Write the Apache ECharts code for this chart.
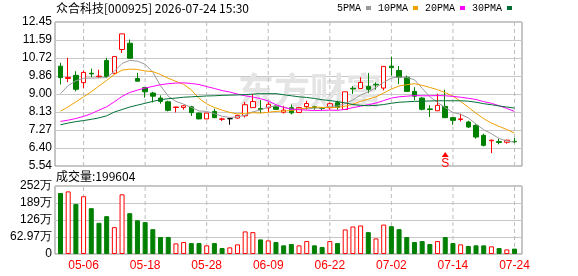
<!DOCTYPE html>
<html>
<head>
<meta charset="utf-8">
<title>众合科技 日K</title>
<script src="https://cdn.jsdelivr.net/npm/echarts@6.0.0/dist/echarts.min.js"></script>
<style>
  html, body { margin: 0; padding: 0; background: #fff; }
  #kline { width: 578px; height: 276px; }
</style>
</head>
<body>
<div id="kline"></div>
<script>
// 交易日
const dates = ['04-28', '04-29', '04-30', '05-06', '05-07', '05-08', '05-11', '05-12', '05-13', '05-14',
  '05-15', '05-18', '05-19', '05-20', '05-21', '05-22', '05-25', '05-26', '05-27', '05-28',
  '05-29', '06-01', '06-02', '06-03', '06-04', '06-05', '06-08', '06-09', '06-10', '06-11',
  '06-12', '06-15', '06-16', '06-17', '06-18', '06-22', '06-23', '06-24', '06-25', '06-26',
  '06-29', '06-30', '07-01', '07-02', '07-03', '07-06', '07-07', '07-08', '07-09', '07-10',
  '07-13', '07-14', '07-15', '07-16', '07-17', '07-20', '07-21', '07-22', '07-23', '07-24'];
const xTickDates = ['05-06', '05-18', '05-28', '06-09', '06-22', '07-02', '07-14', '07-24'];

// 开 收 低 高
const opens = [10.33, 9.74, 9.89, 9.54, 9.99, 9.83, 10.60, 9.99, 11.13, 11.43,
  9.74, 9.30, 9.04, 8.80, 8.62, 8.35, 8.35, 8.38, 8.08, 7.80,
  8.16, 7.78, 7.81, 7.84, 7.95, 8.34, 8.30, 8.33, 8.41, 8.12,
  8.34, 8.11, 8.39, 8.38, 8.33, 8.34, 8.58, 8.25, 9.27, 9.26,
  9.36, 9.46, 9.28, 10.33, 10.12, 9.80, 9.12, 8.80, 8.28, 8.19,
  8.40, 7.86, 7.77, 7.65, 7.49, 7.01, 6.75, 6.71, 6.68, 6.72];
const closes = [9.78, 9.79, 9.22, 10.03, 9.96, 9.85, 9.84, 10.79, 11.88, 10.71,
  9.61, 9.10, 8.89, 8.64, 8.21, 8.37, 8.43, 8.10, 7.80, 8.08,
  7.86, 7.80, 7.81, 7.97, 8.48, 8.63, 8.25, 8.50, 8.26, 8.22,
  8.09, 8.34, 8.54, 8.35, 8.31, 8.53, 8.35, 9.10, 9.24, 9.55,
  9.22, 9.43, 10.32, 10.26, 9.80, 9.12, 8.89, 8.26, 8.25, 8.45,
  7.86, 7.73, 7.80, 7.41, 6.93, 6.53, 6.78, 6.67, 6.78, 6.70];
const lows = [9.45, 9.56, 9.12, 9.28, 9.80, 9.76, 9.76, 9.92, 10.97, 10.69,
  9.60, 8.82, 8.59, 8.53, 8.16, 8.11, 8.24, 7.94, 7.78, 7.79,
  7.84, 7.70, 7.52, 7.82, 7.87, 8.33, 8.08, 8.13, 8.24, 8.06,
  8.02, 8.08, 8.25, 8.24, 8.21, 8.25, 8.24, 8.23, 9.00, 9.25,
  9.03, 9.20, 9.17, 9.87, 9.47, 9.09, 8.69, 8.21, 7.89, 8.18,
  7.85, 7.52, 7.68, 7.36, 6.85, 6.48, 6.16, 6.58, 6.61, 6.64];
const highs = [10.49, 10.73, 10.09, 10.12, 10.21, 10.16, 10.73, 10.80, 11.90, 11.61,
  10.01, 9.33, 9.10, 8.93, 8.67, 8.38, 8.46, 8.43, 8.10, 8.08,
  8.29, 7.86, 7.81, 8.00, 8.62, 8.98, 8.70, 8.60, 8.45, 8.43,
  8.49, 8.36, 8.67, 8.43, 8.37, 8.59, 8.67, 9.10, 9.37, 9.80,
  10.00, 9.55, 10.34, 10.79, 10.33, 9.88, 9.32, 8.85, 8.45, 9.01,
  9.20, 7.89, 8.05, 7.71, 7.54, 7.09, 6.80, 6.85, 6.80, 6.88];

// 均线
const ma5 = [9.01, 9.40, 9.63, 9.75, 9.76, 9.77, 9.78, 10.09, 10.46, 10.61,
  10.57, 10.42, 10.04, 9.39, 8.89, 8.64, 8.51, 8.35, 8.18, 8.16,
  8.05, 7.93, 7.87, 7.90, 7.98, 8.14, 8.23, 8.37, 8.42, 8.37,
  8.26, 8.28, 8.29, 8.31, 8.33, 8.41, 8.42, 8.53, 8.71, 8.95,
  9.09, 9.31, 9.55, 9.76, 9.81, 9.79, 9.68, 9.27, 8.86, 8.59,
  8.34, 8.11, 8.02, 7.85, 7.55, 7.28, 7.09, 6.86, 6.74, 6.69];
const ma10 = [8.17, 8.38, 8.62, 8.86, 9.10, 9.38, 9.65, 9.93, 10.14, 10.19,
  10.17, 10.10, 10.07, 9.93, 9.75, 9.60, 9.46, 9.19, 8.79, 8.52,
  8.35, 8.22, 8.11, 8.04, 8.07, 8.10, 8.08, 8.12, 8.16, 8.18,
  8.20, 8.26, 8.33, 8.37, 8.35, 8.34, 8.35, 8.41, 8.51, 8.64,
  8.75, 8.86, 9.04, 9.23, 9.38, 9.44, 9.49, 9.41, 9.31, 9.20,
  9.06, 8.89, 8.64, 8.36, 8.07, 7.81, 7.60, 7.44, 7.29, 7.12];
const ma20 = [7.68, 7.74, 7.82, 7.92, 8.05, 8.22, 8.38, 8.62, 8.88, 9.07,
  9.18, 9.28, 9.36, 9.44, 9.49, 9.52, 9.53, 9.50, 9.45, 9.35,
  9.26, 9.16, 9.09, 8.99, 8.91, 8.85, 8.77, 8.66, 8.48, 8.35,
  8.27, 8.24, 8.22, 8.20, 8.21, 8.22, 8.21, 8.26, 8.34, 8.41,
  8.48, 8.56, 8.68, 8.80, 8.86, 8.89, 8.92, 8.91, 8.91, 8.92,
  8.91, 8.88, 8.84, 8.79, 8.73, 8.63, 8.55, 8.43, 8.30, 8.16];
const ma30 = [7.52, 7.60, 7.67, 7.72, 7.78, 7.85, 7.95, 8.13, 8.25, 8.37,
  8.46, 8.55, 8.64, 8.72, 8.77, 8.80, 8.84, 8.86, 8.88, 8.90,
  8.91, 8.93, 8.94, 8.95, 8.97, 8.99, 9.01, 9.01, 9.01, 8.96,
  8.91, 8.86, 8.83, 8.78, 8.72, 8.68, 8.63, 8.57, 8.49, 8.45,
  8.43, 8.45, 8.49, 8.55, 8.60, 8.62, 8.64, 8.65, 8.66, 8.67,
  8.67, 8.67, 8.67, 8.65, 8.60, 8.53, 8.48, 8.42, 8.37, 8.32];

// 成交量(手)
const volumes = [2260400, 2318700, 1855200, 2139600, 1697300, 1154800, 1401200, 995300, 2209800, 1512400,
  1249700, 1181300, 919600, 628400, 631900, 393200, 442100, 404700, 405600, 320300,
  404900, 220800, 246100, 356300, 836400, 809700, 540200, 503600, 442300, 320500,
  369100, 319800, 479200, 320700, 258300, 478600, 405200, 909400, 1019800, 1057300,
  810200, 577100, 1089600, 1030400, 920100, 627300, 442500, 479400, 369300, 478800,
  627100, 405300, 356200, 295400, 320100, 319700, 283400, 220300, 170200, 199604];

// 坐标刻度
const priceTicks = ['5.54', '6.40', '7.27', '8.13', '9.00', '9.86', '10.72', '11.59', '12.45'];
const volTicks = ['0', '62.97万', '126万', '189万', '252万'];
const volMax = 2518800;

// 买卖点
const signals = [{ date: '07-13', price: 6.09, text: 'S' }];

const stockTitle = '众合科技[000925] 2026-07-24 15:30';

const UP = '#ff0000';
const DOWN = '#008000';
const GRID_LINE = '#c8c8c8';
const DATE_LINE = '#bdbdbd';
const BORDER = '#8c8c8c';
const pMin = +priceTicks[0];
const pMax = +priceTicks[priceTicks.length - 1];
const isTick = (i, v) => xTickDates.indexOf(v) >= 0;

// 绘图区横向排布：60 根K线
const PLOT_LEFT = 56.65;
const BAND = 7.695;

// 最近的刻度文字
function nearestLabel(labels, values, v) {
  let best = 0;
  values.forEach((t, i) => {
    if (Math.abs(t - v) < Math.abs(values[best] - v)) best = i;
  });
  return labels[best];
}
const priceTickVals = priceTicks.map((t, i) => pMin + (pMax - pMin) * i / (priceTicks.length - 1));
const volTickVals = volTicks.map((t, i) => volMax * i / (volTicks.length - 1));

const candleData = dates.map((d, i) => {
  const item = { value: [opens[i], closes[i], lows[i], highs[i]] };
  if (opens[i] === closes[i]) {
    item.itemStyle = { color: '#000', color0: '#000', borderColor: '#000', borderColor0: '#000', borderColorDoji: '#000' };
  }
  return item;
});

const volData = volumes.map((v, i) => {
  const up = i === 0 ? closes[i] >= opens[i] : closes[i] >= closes[i - 1];
  return {
    value: v,
    itemStyle: up
      ? { color: '#fff', borderColor: UP, borderWidth: 1 }
      : { color: DOWN, borderColor: DOWN, borderWidth: 1 },
  };
});

const maLine = (name, data, color) => ({
  name,
  type: 'line',
  xAxisIndex: 1,
  yAxisIndex: 1,
  data,
  showSymbol: false,
  silent: true,
  lineStyle: { width: 1, color },
  itemStyle: { color },
  z: 3,
});

// 竖向虚线：在每个标注日期上从轴底画到轴顶，断点处用 '-'
const dateLineSeries = (xIdx, yIdx, lo, hi) => ({
  type: 'line',
  xAxisIndex: xIdx,
  yAxisIndex: yIdx,
  silent: true,
  showSymbol: false,
  connectNulls: false,
  z: 1,
  lineStyle: { color: DATE_LINE, width: 1, type: [4, 3] },
  data: xTickDates.flatMap((d) => [[d, lo], [d, hi], [d, '-']]),
});

const labelFont = 'Liberation Sans';

const options = {
  animation: false,
  title: [
    {
      text: stockTitle,
      left: 56,
      top: 2,
      padding: 0,
      textStyle: { fontSize: 12, fontWeight: 'normal', color: '#000', fontFamily: 'Noto Sans CJK SC' },
    },
    {
      text: '成交量:' + volumes[volumes.length - 1],
      left: 56,
      top: 170,
      padding: 0,
      textStyle: { fontSize: 12, fontWeight: 'normal', color: '#000', fontFamily: 'Noto Sans CJK SC' },
    },
  ],
  legend: {
    data: ['5PMA', '10PMA', '20PMA', '30PMA'],
    left: 337,
    top: 3,
    padding: 0,
    align: 'right',
    icon: 'rect',
    itemWidth: 5,
    itemHeight: 4,
    itemGap: 7,
    selectedMode: false,
    textStyle: { fontFamily: 'Liberation Mono', fontSize: 10, color: '#000' },
  },
  graphic: [
    {
      type: 'text',
      left: 238,
      top: 72,
      z: 1,
      silent: true,
      style: { text: '东方财富', fill: '#e4e4e4', font: 'bold 36px "Noto Sans CJK SC"' },
    },
  ],
  grid: [
    { left: 55, right: 56, top: 22, height: 144, show: true, borderColor: BORDER, borderWidth: 1 }, // K线外框
    { left: PLOT_LEFT, width: BAND * dates.length, top: 22, height: 144 }, // K线绘图区
    { left: 55, right: 56, top: 186, height: 68, show: true, borderColor: BORDER, borderWidth: 1 }, // 成交量外框
    { left: PLOT_LEFT, width: BAND * dates.length, top: 186, height: 68 }, // 成交量绘图区
  ],
  xAxis: [
    { gridIndex: 0, type: 'value', min: 0, max: 1, show: false },
    {
      gridIndex: 1,
      type: 'category',
      data: dates,
      boundaryGap: true,
      axisLine: { show: false },
      axisTick: { show: false },
      axisLabel: { show: false },
      splitLine: { show: false },
    },
    { gridIndex: 2, type: 'value', min: 0, max: 1, show: false },
    {
      gridIndex: 3,
      type: 'category',
      data: dates,
      boundaryGap: true,
      axisLine: { show: false },
      axisTick: { show: false },
      axisLabel: { show: true, interval: isTick, color: UP, fontSize: 12, margin: 6, fontFamily: labelFont },
      splitLine: { show: false },
    },
  ],
  yAxis: [
    {
      gridIndex: 0,
      type: 'value',
      min: pMin,
      max: pMax,
      interval: (pMax - pMin) / (priceTicks.length - 1),
      axisLine: { show: false },
      axisTick: { show: false },
      axisLabel: {
        color: '#000',
        fontSize: 12,
        margin: 3,
        fontFamily: labelFont,
        formatter: (v) => nearestLabel(priceTicks, priceTickVals, v),
      },
      splitLine: { lineStyle: { color: GRID_LINE } },
    },
    { gridIndex: 1, type: 'value', min: pMin, max: pMax, show: false, splitLine: { show: false } },
    {
      gridIndex: 2,
      type: 'value',
      min: 0,
      max: volMax,
      interval: volMax / (volTicks.length - 1),
      axisLine: { show: false },
      axisTick: { show: false },
      axisLabel: {
        color: '#000',
        fontSize: 12,
        margin: 3,
        fontFamily: labelFont,
        formatter: (v) => nearestLabel(volTicks, volTickVals, v),
      },
      splitLine: { lineStyle: { color: GRID_LINE } },
    },
    { gridIndex: 3, type: 'value', min: 0, max: volMax, show: false, splitLine: { show: false } },
  ],
  series: [
    dateLineSeries(1, 1, pMin, pMax),
    dateLineSeries(3, 3, 0, volMax),
    {
      name: 'K',
      type: 'candlestick',
      xAxisIndex: 1,
      yAxisIndex: 1,
      data: candleData,
      barWidth: 5,
      silent: true,
      itemStyle: { color: '#fff', color0: DOWN, borderColor: UP, borderColor0: DOWN, borderWidth: 1 },
      markPoint: {
        symbol: 'triangle',
        symbolSize: [7, 5],
        silent: true,
        itemStyle: { color: UP },
        label: {
          show: true,
          position: 'bottom',
          distance: 1,
          color: UP,
          fontSize: 12,
          fontFamily: labelFont,
          formatter: (p) => p.name,
        },
        data: signals.map((s) => ({ name: s.text, coord: [s.date, s.price] })),
      },
    },
    maLine('5PMA', ma5, '#9a9a9a'),
    maLine('10PMA', ma10, '#f0a000'),
    maLine('20PMA', ma20, '#ff00ff'),
    maLine('30PMA', ma30, '#007036'),
    {
      name: 'VOL',
      type: 'bar',
      xAxisIndex: 3,
      yAxisIndex: 3,
      data: volData,
      barWidth: 5,
      silent: true,
    },
  ],
};

const chart = echarts.init(document.getElementById('kline'));
chart.setOption(options);
window.addEventListener('resize', () => chart.resize());
</script>
</body>
</html>
